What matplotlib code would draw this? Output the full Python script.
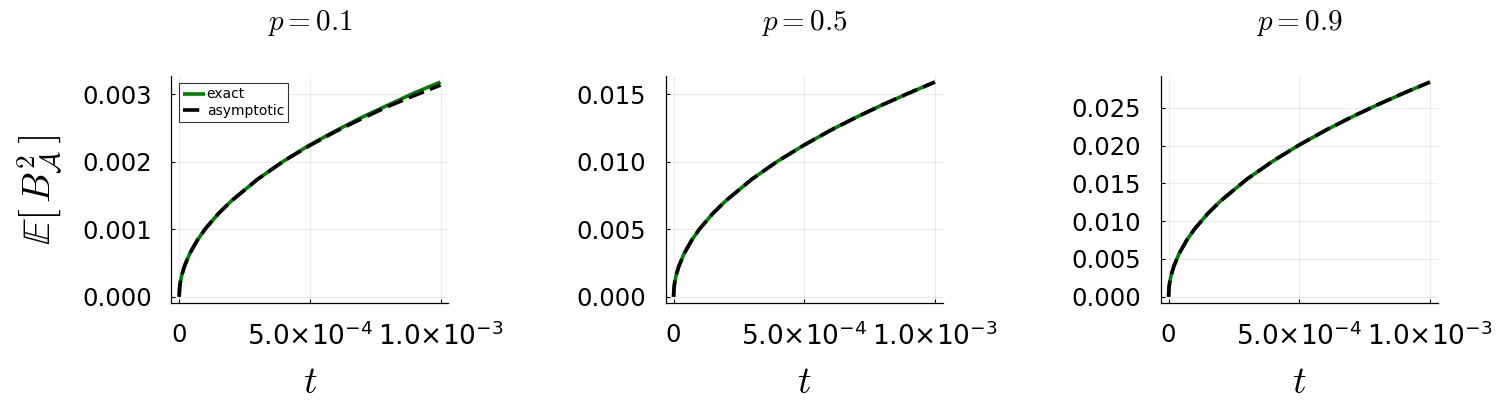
import numpy as np
import matplotlib
matplotlib.use("Agg")
import matplotlib.pyplot as plt
from matplotlib.ticker import FixedLocator, FixedFormatter, FormatStrFormatter

plt.rcParams['font.family'] = ['DejaVu Sans']
plt.rcParams['mathtext.fontset'] = 'cm'

# time grid
t = [0.0, 2e-6, 5e-6, 1e-5, 2e-5, 4e-5, 7e-5, 1e-4, 1.5e-4, 2e-4,
     3e-4, 4e-4, 5e-4, 6e-4, 7e-4, 8e-4, 9e-4, 1e-3]

p_values = [0.1, 0.5, 0.9]

# E[B_A^2]
exact_01 = [0.0, 0.000142, 0.000225, 0.000318, 0.00045, 0.000636, 0.00084, 0.001006,
            0.00123, 0.00142, 0.00174, 0.00201, 0.00225, 0.00246, 0.00266, 0.00284,
            0.00302, 0.00318]
asym_01 = [0.0, 0.000142, 0.000225, 0.000318, 0.00045, 0.000636, 0.00084, 0.001006,
           0.00123, 0.00142, 0.00174, 0.00201, 0.00224, 0.00245, 0.00264, 0.00282,
           0.00298, 0.003135]

exact_05 = [0.0, 0.00071, 0.00112, 0.00159, 0.00225, 0.00318, 0.00421, 0.00503,
            0.00616, 0.00711, 0.00871, 0.01006, 0.01124, 0.01232, 0.0133, 0.01422,
            0.01508, 0.0159]
asym_05 = [0.0, 0.00071, 0.00112, 0.00159, 0.00225, 0.00318, 0.00421, 0.00503,
           0.00616, 0.00711, 0.00871, 0.01006, 0.01124, 0.01232, 0.0133, 0.01422,
           0.01508, 0.0159]

exact_09 = [0.0, 0.00127, 0.00201, 0.00284, 0.00402, 0.00568, 0.00751, 0.00898,
            0.0110, 0.0127, 0.01556, 0.01796, 0.02008, 0.022, 0.02376, 0.0254,
            0.02694, 0.0284]
asym_09 = [0.0, 0.00127, 0.00201, 0.00284, 0.00402, 0.00568, 0.00751, 0.00898,
           0.0110, 0.0127, 0.01556, 0.01796, 0.02008, 0.022, 0.02376, 0.0254,
           0.02694, 0.0284]

yticks_01 = [0.0, 0.001, 0.002, 0.003]
yticks_05 = [0.0, 0.005, 0.010, 0.015]
yticks_09 = [0.0, 0.005, 0.010, 0.015, 0.020, 0.025]

xticks = [0.0, 5e-4, 1e-3]
xticklabels = ['0', r'$\mathregular{5.0{\times}10^{-4}}$', r'$\mathregular{1.0{\times}10^{-3}}$']

exact_all = [exact_01, exact_05, exact_09]
asym_all = [asym_01, asym_05, asym_09]
yticks_all = [yticks_01, yticks_05, yticks_09]

fig = plt.figure(figsize=(15, 4), dpi=100)
lefts = [0.1142, 0.4438, 0.7738]
bottom, width, height = 0.242, 0.1847, 0.569

for i in range(3):
    ax = fig.add_axes([lefts[i], bottom, width, height])
    ax.plot(t, exact_all[i], color='#008000', lw=2.6, label='exact', solid_capstyle='butt')
    ax.plot(t, asym_all[i], color='black', lw=2.6, ls=(0, (4.5, 1.8)), label='asymptotic')

    x0, x1 = min(t), max(t)
    xp = 0.03 * (x1 - x0)
    ax.set_xlim(x0 - xp, x1 + xp)
    y0, y1 = 0.0, max(exact_all[i])
    yp = 0.03 * (y1 - y0)
    ax.set_ylim(y0 - yp, y1 + yp)

    ax.xaxis.set_major_locator(FixedLocator(xticks))
    ax.xaxis.set_major_formatter(FixedFormatter(xticklabels))
    ax.set_yticks(yticks_all[i])
    ax.yaxis.set_major_formatter(FormatStrFormatter('%.3f'))

    ax.spines['top'].set_visible(False)
    ax.spines['right'].set_visible(False)
    ax.spines['left'].set_linewidth(0.9)
    ax.spines['bottom'].set_linewidth(0.9)
    ax.tick_params(direction='in', length=3, width=0.8)
    ax.tick_params(axis='y', labelsize=17.5, pad=14)
    ax.tick_params(axis='x', labelsize=19, pad=14)
    ax.get_xticklabels()[0].set_fontsize(17.5)
    ax.grid(True, color='black', alpha=0.08, lw=0.8)

    ax.set_title(r'$p = %s$' % p_values[i], fontsize=21, pad=33)
    ax.set_xlabel(r'$t$', fontsize=27, labelpad=10)

    if i == 0:
        ax.set_ylabel(r'$\mathbb{E}\left[\,B_{\mathcal{A}}^2\,\right]$', fontsize=28, labelpad=12)
        leg = ax.legend(loc='upper left', fontsize=10, frameon=True, fancybox=False,
                        edgecolor='#333333', framealpha=1, borderaxespad=0.55,
                        borderpad=0.3, labelspacing=0.2, handlelength=1.6,
                        handletextpad=0.1)
        leg.get_frame().set_linewidth(0.8)

fig.savefig('out.png', dpi=100)
